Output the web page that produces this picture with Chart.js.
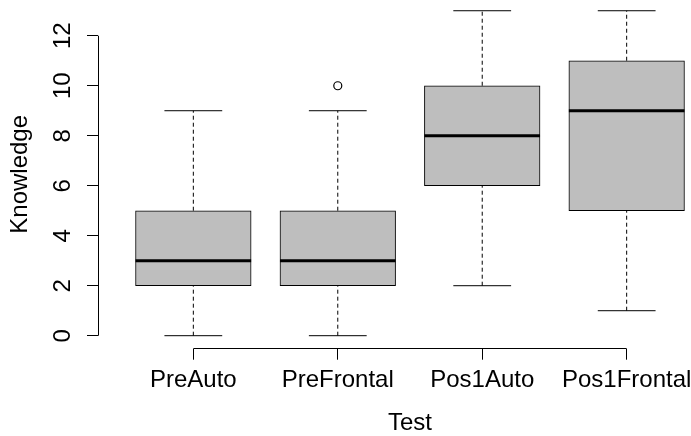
<!DOCTYPE html>
<html lang="en">
<head>
  <meta charset="UTF-8">
  <title>Knowledge by Test</title>
  <script src="https://cdn.jsdelivr.net/npm/chart.js"></script>
  <style>
    body { margin: 0; background: #fff; overflow: hidden; }
    canvas { display: block; }
  </style>
</head>
<body>
<canvas id="boxChart" width="722" height="436"></canvas>
<script>
  // box plot summary per test
  var categories = ['PreAuto', 'PreFrontal', 'Pos1Auto', 'Pos1Frontal'];
  var whiskerLow = [0, 0, 2, 1];
  var lowerQuartile = [2, 2, 6, 5];
  var medians = [3, 3, 8, 9];
  var upperQuartile = [5, 5, 10, 11];
  var whiskerHigh = [9, 9, 13, 13];
  var outlierCategory = [2];
  var outlierValue = [10];

  var FONT = "'Liberation Sans', Arial, sans-serif";
  var BOX_PX = 115.6;

  function pos(i) { return i + 1; }

  var datasets = [];

  // medians (thick line)
  datasets.push({
    type: 'scatter',
    data: medians.map(function(v, i) { return {x: pos(i), y: v}; }),
    pointStyle: 'line',
    pointRadius: BOX_PX / 2,
    pointBorderWidth: 3,
    borderColor: '#000',
    backgroundColor: '#000'
  });

  // staples
  var caps = [];
  categories.forEach(function(c, i) {
    caps.push({x: pos(i), y: whiskerLow[i]});
    caps.push({x: pos(i), y: whiskerHigh[i]});
  });
  datasets.push({
    type: 'scatter',
    data: caps,
    pointStyle: 'line',
    pointRadius: BOX_PX / 4,
    pointBorderWidth: 1,
    borderColor: '#000',
    backgroundColor: '#000'
  });

  // outliers
  datasets.push({
    type: 'scatter',
    data: outlierValue.map(function(v, k) { return {x: outlierCategory[k], y: v}; }),
    pointStyle: 'circle',
    pointRadius: 4,
    pointBorderWidth: 1.2,
    borderColor: '#000',
    backgroundColor: 'rgba(0,0,0,0)'
  });

  // boxes
  datasets.push({
    type: 'bar',
    data: categories.map(function(c, i) { return {x: pos(i), y: [lowerQuartile[i], upperQuartile[i]]}; }),
    backgroundColor: '#bebebe',
    borderColor: '#000',
    borderWidth: 1,
    borderSkipped: false,
    barThickness: BOX_PX
  });

  // dashed whiskers
  categories.forEach(function(c, i) {
    [[whiskerLow[i], lowerQuartile[i]], [upperQuartile[i], whiskerHigh[i]]].forEach(function(seg) {
      datasets.push({
        type: 'line',
        data: [{x: pos(i), y: seg[0]}, {x: pos(i), y: seg[1]}],
        borderColor: '#000',
        borderWidth: 1,
        borderDash: [4, 3],
        pointRadius: 0
      });
    });
  });

  // R style axis lines: only from first to last tick
  var axisLines = {
    id: 'axisLines',
    afterDraw: function(chart) {
      var ctx = chart.ctx, xs = chart.scales.x, ys = chart.scales.y;
      var xt = xs.ticks, yt = ys.ticks;
      ctx.save();
      ctx.strokeStyle = '#000';
      ctx.lineWidth = 1;
      ctx.beginPath();
      var ax = Math.round(chart.chartArea.left - 0.5) + 0.5;
      ctx.moveTo(ax, ys.getPixelForValue(yt[0].value));
      ctx.lineTo(ax, ys.getPixelForValue(yt[yt.length - 1].value));
      var ay = Math.round(chart.chartArea.bottom - 0.5) + 0.5;
      ctx.moveTo(xs.getPixelForValue(xt[0].value), ay);
      ctx.lineTo(xs.getPixelForValue(xt[xt.length - 1].value), ay);
      ctx.stroke();
      ctx.restore();
    }
  };

  new Chart(document.getElementById('boxChart'), {
    type: 'bar',
    data: { datasets: datasets },
    options: {
      responsive: false,
      animation: false,
      events: [],
      layout: { padding: 0, autoPadding: false },
      plugins: { legend: { display: false }, tooltip: { enabled: false } },
      scales: {
        x: {
          type: 'linear',
          min: 0.34,
          max: 4.66,
          offset: false,
          afterFit: function(s) { s.height = 87.3; s.paddingLeft = 0; s.paddingRight = 0; },
          border: { display: false },
          grid: { offset: false, drawOnChartArea: false, drawTicks: true, tickLength: 11, color: '#000' },
          ticks: {
            stepSize: 1,
            includeBounds: false,
            autoSkip: false,
            maxRotation: 0,
            padding: 6,
            color: '#000',
            font: { family: FONT, size: 24, lineHeight: 1.2 },
            callback: function(v) { return categories[v - 1] || ''; }
          },
          title: {
            display: true,
            text: 'Test',
            color: '#000',
            font: { family: FONT, size: 24, lineHeight: 1 },
            padding: { top: 0, bottom: 1 }
          }
        },
        y: {
          type: 'linear',
          min: -0.52,
          max: 13.43,
          afterFit: function(s) { s.width = 98; s.paddingTop = 0; s.paddingBottom = 0; },
          border: { display: false },
          grid: { drawOnChartArea: false, drawTicks: true, tickLength: 11, color: '#000' },
          ticks: {
            stepSize: 2,
            includeBounds: false,
            autoSkip: false,
            minRotation: 90,
            maxRotation: 90,
            crossAlign: 'center',
            padding: 10,
            color: '#000',
            font: { family: FONT, size: 24, lineHeight: 1.2 }
          },
          title: {
            display: true,
            text: 'Knowledge',
            color: '#000',
            font: { family: FONT, size: 24, lineHeight: 1 },
            padding: { top: 8, bottom: 0 }
          }
        }
      }
    },
    plugins: [axisLines]
  });
</script>
</body>
</html>
